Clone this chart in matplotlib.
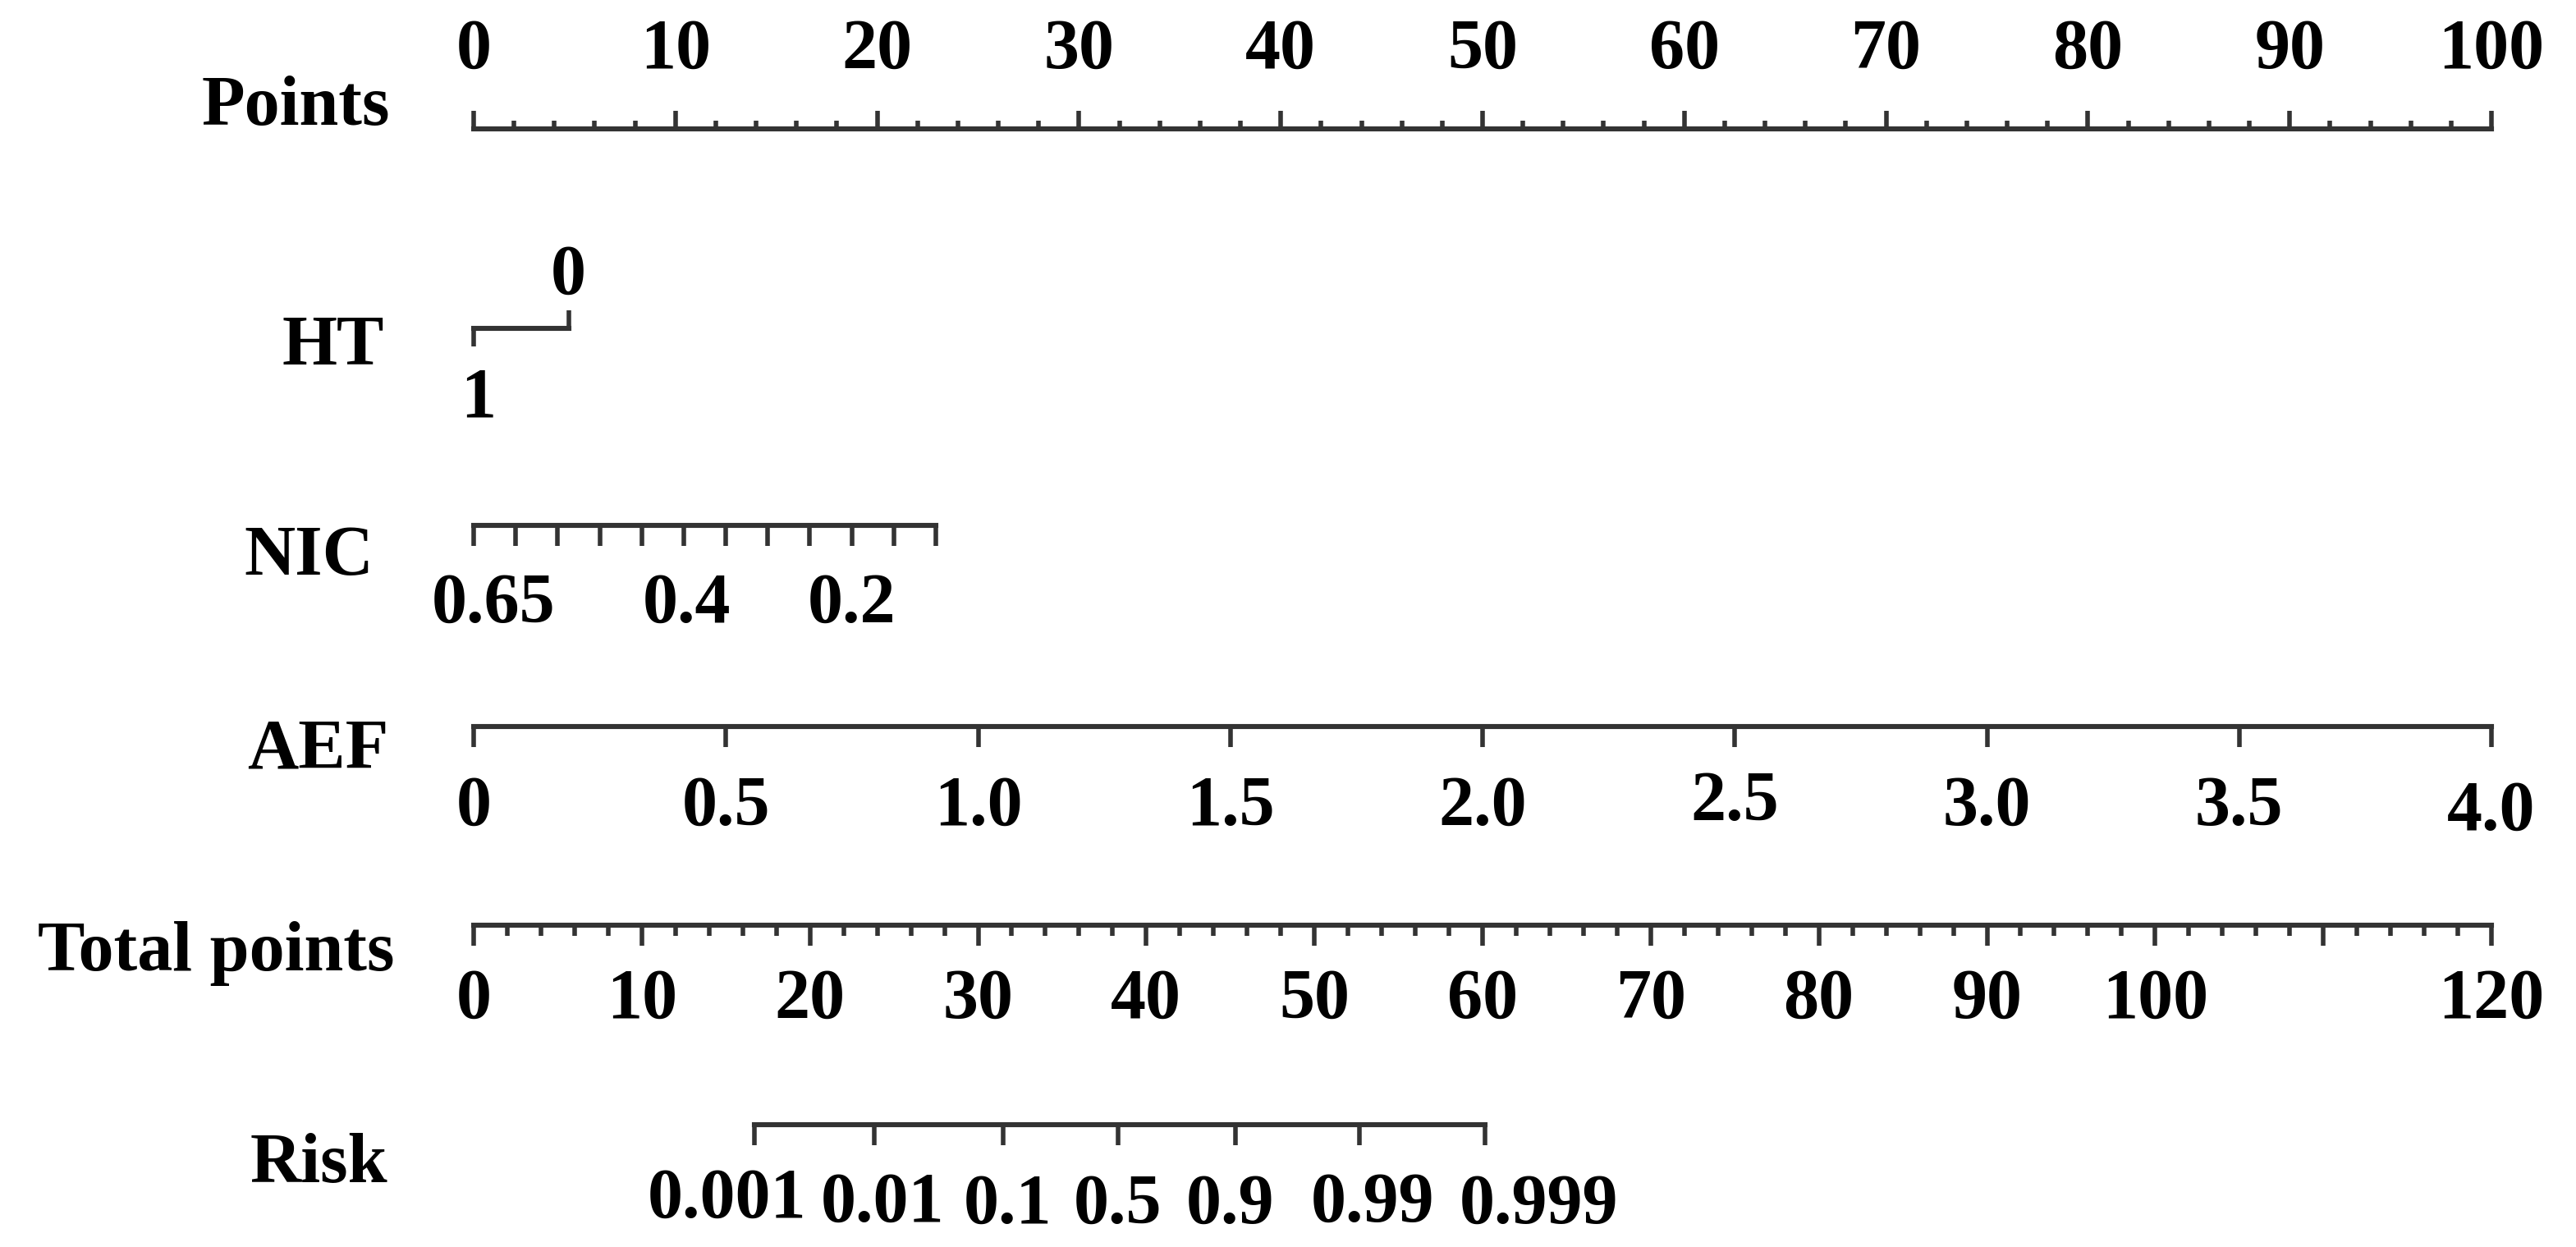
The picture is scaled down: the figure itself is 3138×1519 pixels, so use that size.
import numpy as np
import matplotlib
matplotlib.use("Agg")
import matplotlib.pyplot as plt

# ---------------- data ----------------
points_major = list(range(0, 101, 10))
points_minor = list(range(0, 101, 2))

ht_levels = ["1", "0"]
ht_points = [0.0, 4.7]

nic_ticks = [0.65, 0.60, 0.55, 0.50, 0.45, 0.40, 0.35, 0.30, 0.25, 0.20, 0.15, 0.10]
nic_labels = ["0.65", "0.4", "0.2"]
nic_label_values = [0.65, 0.40, 0.20]
nic_value_range = [0.65, 0.10]
nic_points_range = [0.0, 22.9]

aef_ticks = [0.0, 0.5, 1.0, 1.5, 2.0, 2.5, 3.0, 3.5, 4.0]
aef_labels = ["0", "0.5", "1.0", "1.5", "2.0", "2.5", "3.0", "3.5", "4.0"]
aef_points_range = [0.0, 100.0]
aef_value_range = [0.0, 4.0]

total_major = list(range(0, 121, 10))
total_minor = list(range(0, 121, 2))
total_labels = ["0", "10", "20", "30", "40", "50", "60", "70", "80", "90", "100", "", "120"]
total_max = 120

risk_labels = ["0.001", "0.01", "0.1", "0.5", "0.9", "0.99", "0.999"]
risk_total_points = [16.7, 23.8, 31.5, 38.3, 45.3, 52.7, 60.15]

row_names = ["Points", "HT", "NIC", "AEF", "Total points", "Risk"]

# ---------------- layout ----------------
W, H = 3138, 1519
X0_PX, X100_PX = 577, 3035
PPX = (X100_PX - X0_PX) / 100.0  # pixels per point

plt.rcParams["font.family"] = ["Liberation Serif", "DejaVu Serif"]
FS = 62
LC = "#333333"
LW = 4.4
TW = 4.0

fig = plt.figure(figsize=(W / 100, H / 100), dpi=100)
ax = fig.add_axes([0, 0, 1, 1])
ax.set_xlim(-X0_PX / PPX, (W - X0_PX) / PPX)
ax.set_ylim(H, 0)
ax.axis("off")


def px(dx):
    return dx / PPX


def hline(x1, x2, y):
    ax.plot([x1, x2], [y, y], color=LC, lw=LW, solid_capstyle="projecting")


def tick(x, y1, y2):
    ax.plot([x, x], [y1, y2], color=LC, lw=TW, solid_capstyle="butt")


def label(x, y, s, ha="center"):
    ax.text(x, y, s, ha=ha, va="baseline", fontsize=FS, fontweight="bold", color="black")


name_right = [475, 468, 455, 473, 481, 472]
name_y = [152, 444, 700, 935, 1182, 1440]
for nm, nr, ny in zip(row_names, name_right, name_y):
    label(px(nr - X0_PX), ny, nm, ha="right")

# Points row
yP = 157
hline(0, 100, yP)
for v in points_minor:
    if v in points_major:
        tick(v, yP, yP - 22)
    else:
        tick(v, yP, yP - 10)
for v in points_major:
    label(v, 83, str(v))

# HT row
yH = 400
hline(min(ht_points), max(ht_points), yH)
tick(ht_points[0], yH, yH + 22)
tick(ht_points[1], yH, yH - 22)
label(ht_points[0] + px(6), 508, ht_levels[0])
label(ht_points[1], 358, ht_levels[1])

# NIC row
yN = 640
nic_pts = np.interp(nic_ticks, nic_value_range[::-1], nic_points_range[::-1])
hline(nic_pts.min(), nic_pts.max(), yN)
for p in nic_pts:
    tick(p, yN, yN + 25)
nic_dx = [24, 4, 0]
for v, s, d in zip(nic_label_values, nic_labels, nic_dx):
    p = np.interp(v, nic_value_range[::-1], nic_points_range[::-1])
    label(p + px(d), 758, s)

# AEF row
yA = 885
aef_pts = np.interp(aef_ticks, aef_value_range, aef_points_range)
hline(aef_pts.min(), aef_pts.max(), yA)
aef_dy = [0, 0, 0, 0, 0, -6, 0, 0, 6]
for p, s, d in zip(aef_pts, aef_labels, aef_dy):
    tick(p, yA, yA + 25)
    label(p, 1005 + d, s)

# Total points row
yT = 1127
scale = 100.0 / total_max
hline(0, total_max * scale, yT)
for v in total_minor:
    if v in total_major:
        tick(v * scale, yT, yT + 25)
    else:
        tick(v * scale, yT, yT + 13)
for v, s in zip(total_major, total_labels):
    if s:
        label(v * scale, 1240, s)

# Risk row
yR = 1370
rp = [v * scale for v in risk_total_points]
hline(min(rp), max(rp), yR)
risk_dx = [-34, 11, 5, 0, -6, 16, 65]
risk_dy = [-5, 0, 2, 2, 2, 0, 2]
for p, s, d, dy in zip(rp, risk_labels, risk_dx, risk_dy):
    tick(p, yR, yR + 25)
    label(p + px(d), 1488 + dy, s)

fig.savefig("out.png", dpi=100, facecolor="white")
